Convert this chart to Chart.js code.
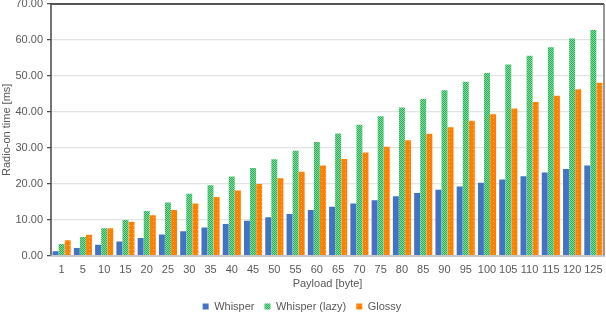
<!DOCTYPE html>
<html><head><meta charset="utf-8">
<script src="https://cdn.jsdelivr.net/npm/chart.js@4"></script>
<style>html,body{margin:0;padding:0;background:#fff}#wrap{width:606px;height:312px}</style>
</head><body><div id="wrap"><canvas id="c" width="606" height="312"></canvas></div>
<script>
const payloads = ["1","5","10","15","20","25","30","35","40","45","50","55","60","65","70","75","80","85","90","95","100","105","110","115","120","125"];
const whisper = [1.2,2.1,3.0,3.9,4.9,5.9,6.8,7.8,8.8,9.7,10.7,11.6,12.7,13.6,14.5,15.4,16.5,17.4,18.3,19.2,20.3,21.2,22.1,23.1,24.1,25.1];
const whisperLazy = [3.2,5.2,7.6,9.9,12.4,14.8,17.2,19.6,22.0,24.4,26.8,29.2,31.6,34.0,36.4,38.8,41.2,43.6,46.0,48.4,50.8,53.2,55.6,58.0,60.4,62.8];
const glossy = [4.3,5.8,7.6,9.4,11.2,12.7,14.5,16.3,18.1,19.9,21.5,23.3,25.1,26.9,28.7,30.3,32.1,33.9,35.7,37.5,39.3,40.9,42.7,44.5,46.3,48.1];
const yTicksMax = 70;

function makePattern(bg, fg, cells){
  const p = document.createElement('canvas'); p.width = 4; p.height = 4;
  const x = p.getContext('2d');
  x.fillStyle = bg; x.fillRect(0,0,4,4);
  x.fillStyle = fg;
  cells.forEach(([a,b])=>x.fillRect(a,b,1,1));
  return x.createPattern(p,'repeat');
}
const ctx = document.getElementById('c').getContext('2d');
const greenPat = makePattern('#86dba0', '#22b050', [[0,0],[2,0],[1,1],[3,1],[0,2],[2,2],[1,3],[3,3]]);
const orangePat = makePattern('#ff8000', '#ffb060', [[1,1]]);

const frame = {
  id:'frame',
  afterDatasetsDraw(chart){
    const a = chart.chartArea, c = chart.ctx;
    c.save();
    c.strokeStyle = '#222'; c.lineWidth = 1.5;
    c.beginPath(); c.moveTo(a.left, a.top); c.lineTo(a.right, a.top); c.stroke();
    c.strokeStyle = '#777'; c.lineWidth = 1.5;
    c.beginPath(); c.moveTo(a.right, a.top); c.lineTo(a.right, a.bottom); c.stroke();
    c.strokeStyle = '#444'; c.lineWidth = 1.5;
    c.beginPath(); c.moveTo(a.left, a.top); c.lineTo(a.left, a.bottom); c.stroke();
    c.restore();
  }
};

const font = {family:'Liberation Sans, Arial', size:11};
new Chart(ctx, {
  type:'bar',
  data:{
    labels: payloads,
    datasets:[
      {label:'Whisper', data: whisper, backgroundColor:'#4472c4', borderWidth:0},
      {label:'Whisper (lazy)', data: whisperLazy, backgroundColor: greenPat, borderWidth:0},
      {label:'Glossy', data: glossy, backgroundColor: orangePat, borderWidth:0}
    ]
  },
  options:{
    responsive:false, animation:false,
    layout:{padding:{top:4,right:2,left:0,bottom:-10}},
    datasets:{bar:{categoryPercentage:0.86, barPercentage:0.97}},
    scales:{
      x:{
        grid:{display:false},
        border:{color:'#c8c8c8', width:2},
        ticks:{color:'#595959', font, maxRotation:0, autoSkip:false, padding:0},
        title:{display:true, text:'Payload [byte]', color:'#595959', font, padding:{top:1,bottom:0}},
        afterFit(s){ s.paddingLeft = 0; s.paddingRight = 0; }
      },
      y:{
        min:0, max:yTicksMax,
        ticks:{stepSize:10, color:'#595959', font, callback:v=>v.toFixed(2), padding:4},
        grid:{color:'#e3e3e3', lineWidth:1.3, drawTicks:true, tickLength:4, tickColor:'#444', tickWidth:1.2},
        border:{display:false},
        title:{display:true, text:'Radio-on time [ms]', color:'#595959', font, padding:{top:0,bottom:2}},
        afterFit(s){ s.width = 51; s.paddingTop = 0; s.paddingBottom = 0; }
      }
    },
    plugins:{
      legend:{position:'bottom', labels:{color:'#595959', font, boxWidth:6, boxHeight:6, padding:10}},
      tooltip:{enabled:false}
    }
  },
  plugins:[frame]
});
</script></body></html>
